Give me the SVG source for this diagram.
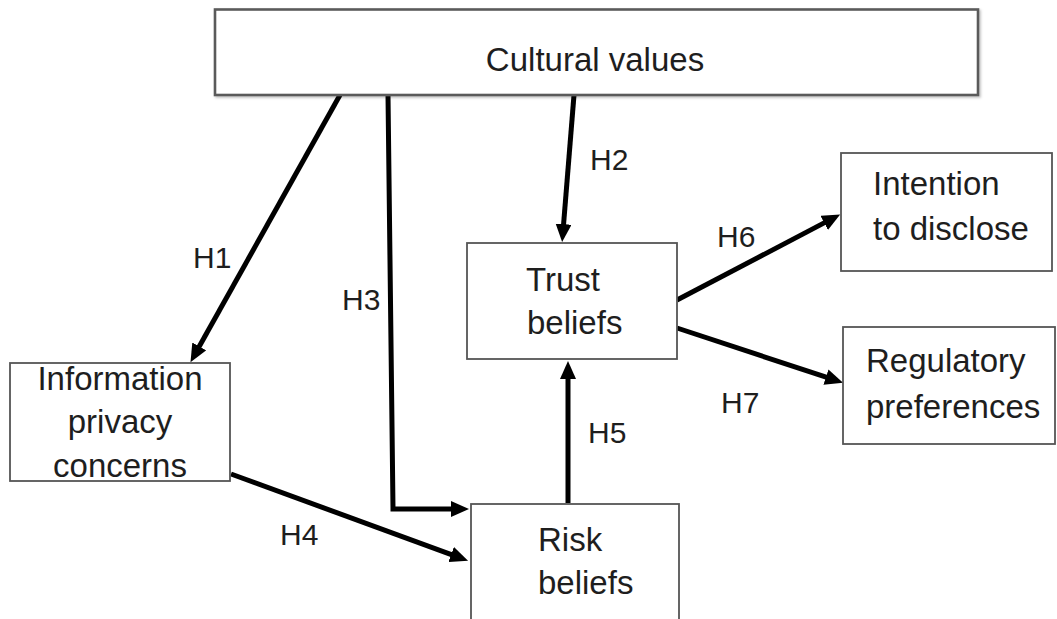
<svg xmlns="http://www.w3.org/2000/svg" width="1057" height="619" viewBox="0 0 1057 619">
<style>
.box{fill:#fff;stroke:#555;stroke-width:1.8}
.main{fill:#fff;stroke:#5a5a5a;stroke-width:2.6}
.t{font-family:"Liberation Sans",Arial,sans-serif;font-size:33px;fill:#1e1e1e}
.h{font-family:"Liberation Sans",Arial,sans-serif;font-size:30px;fill:#1e1e1e}
.c{text-anchor:middle}
.edge{fill:none;stroke:#000;stroke-width:5;marker-end:url(#arr)}
</style>
<defs>
<marker id="arr" viewBox="0 0 18 16" markerWidth="18" markerHeight="16" markerUnits="userSpaceOnUse" refX="1" refY="8" orient="auto">
<path d="M0,0 L18,8 L0,16 z" fill="#000"/>
</marker>
<filter id="sh" x="-5%" y="-5%" width="110%" height="120%">
<feDropShadow dx="1.5" dy="1.5" stdDeviation="1" flood-color="#000" flood-opacity="0.25"/>
</filter>
</defs>
<rect width="1057" height="619" fill="#fff"/>
<g id="connectors">
<path class="edge" d="M340,95 L198.8,347.3"/>
<path class="edge" d="M388,95 L393,509 L452,509"/>
<path class="edge" d="M574,95 L563.5,225.1"/>
<path class="edge" d="M231,474 L452.1,554.8"/>
<path class="edge" d="M568,503 L568,378"/>
<path class="edge" d="M677,300 L825.1,222.4"/>
<path class="edge" d="M677,328 L826.9,377.4"/>
</g>
<g id="labels">
<text class="h" x="193" y="268">H1</text>
<text class="h" x="590" y="170">H2</text>
<text class="h" x="342" y="310">H3</text>
<text class="h" x="280" y="545">H4</text>
<text class="h" x="588" y="443">H5</text>
<text class="h" x="717" y="247">H6</text>
<text class="h" x="721" y="413">H7</text>
</g>
<g id="cultural-values">
<rect class="main" x="215" y="9.5" width="763" height="85.5" filter="url(#sh)"/>
<text class="t c" x="595" y="71">Cultural values</text>
</g>
<g id="information-privacy-concerns">
<rect class="box" x="10" y="363" width="220" height="118"/>
<text class="t c" x="120" y="390">Information</text>
<text class="t c" x="120" y="433">privacy</text>
<text class="t c" x="120" y="477">concerns</text>
</g>
<g id="trust-beliefs">
<rect class="box" x="467" y="243" width="210" height="116"/>
<text class="t" x="526" y="291">Trust</text>
<text class="t" x="527" y="334">beliefs</text>
</g>
<g id="risk-beliefs">
<rect class="box" x="471" y="504" width="208" height="130"/>
<text class="t" x="538" y="551">Risk</text>
<text class="t" x="538" y="594">beliefs</text>
</g>
<g id="intention-to-disclose">
<rect class="box" x="841" y="153" width="211" height="118"/>
<text class="t" x="873" y="195">Intention</text>
<text class="t" x="873" y="240">to disclose</text>
</g>
<g id="regulatory-preferences">
<rect class="box" x="843" y="327" width="212" height="117"/>
<text class="t" x="866" y="372">Regulatory</text>
<text class="t" x="866" y="418">preferences</text>
</g>
</svg>
